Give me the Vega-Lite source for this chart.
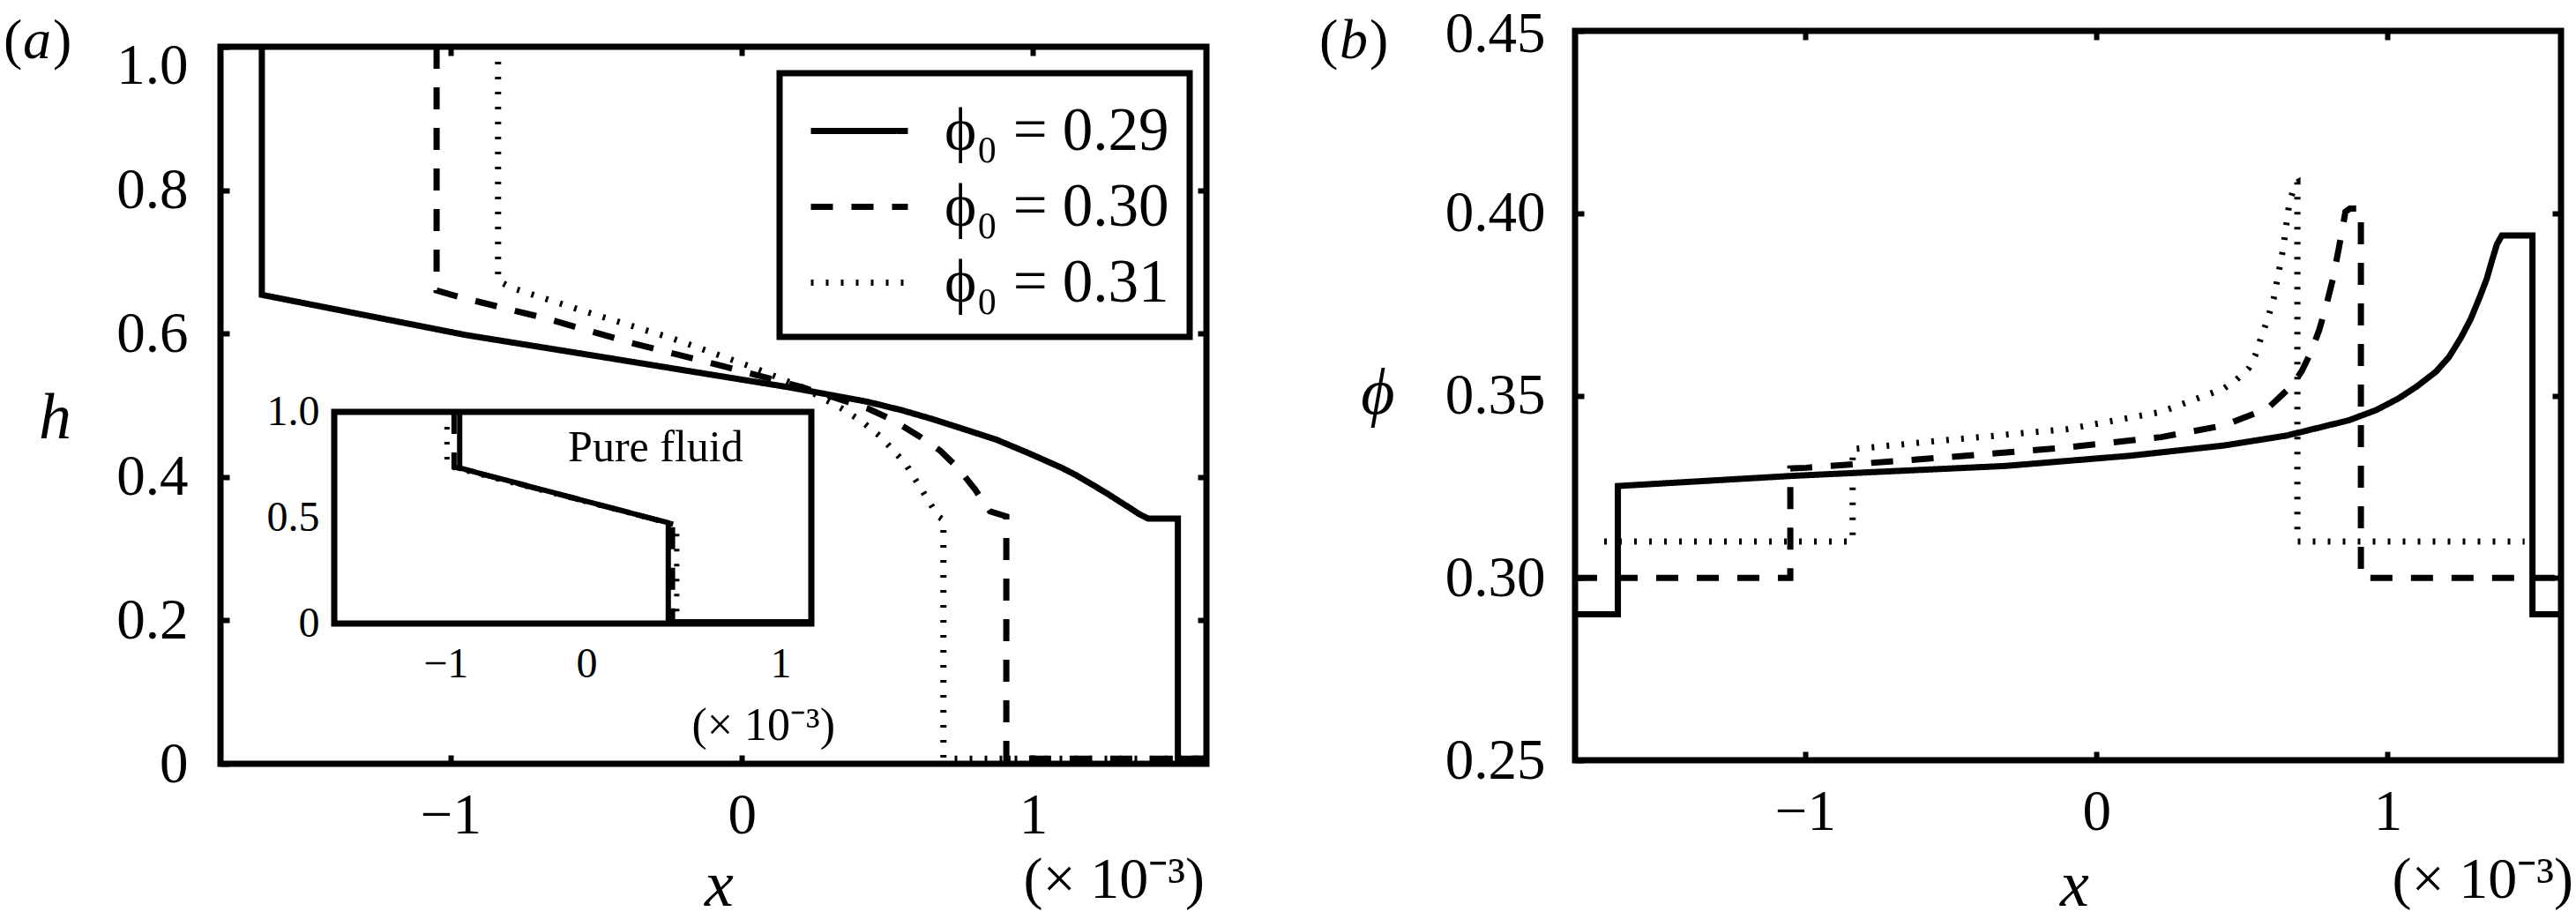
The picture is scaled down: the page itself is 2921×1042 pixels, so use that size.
{
  "$schema": "https://vega.github.io/schema/vega-lite/v6.json",
  "background": "white",
  "padding": {"left": 4, "top": 6, "right": 0, "bottom": 0},
  "spacing": 418,
  "bounds": "flush",
  "config": {
    "font": "Liberation Serif",
    "view": {"stroke": null},
    "axis": {
      "grid": false, "domain": false, "tickColor": "black", "tickWidth": 6, "tickSize": -10,
      "labelFont": "Liberation Serif", "labelFontSize": 65, "labelColor": "black", "labelPadding": 37,
      "labelFlush": false, "labelOverlap": false, "zindex": 1,
      "titleFont": "Liberation Serif", "titleFontStyle": "italic", "titleFontWeight": "normal", "titleFontSize": 74, "titleColor": "black"
    },
    "legend": {"zindex": 1}
  },
  "datasets": {
    "aMain": [
      {"s": "0.29", "i": 0, "x": -1.648, "h": 1.0},
      {"s": "0.29", "i": 1, "x": -1.648, "h": 0.654},
      {"s": "0.29", "i": 2, "x": -0.948, "h": 0.598},
      {"s": "0.29", "i": 3, "x": -0.459, "h": 0.566},
      {"s": "0.29", "i": 4, "x": 0.163, "h": 0.525},
      {"s": "0.29", "i": 5, "x": 0.43, "h": 0.505},
      {"s": "0.29", "i": 6, "x": 0.55, "h": 0.493},
      {"s": "0.29", "i": 7, "x": 0.652, "h": 0.481},
      {"s": "0.29", "i": 8, "x": 0.76, "h": 0.467},
      {"s": "0.29", "i": 9, "x": 0.874, "h": 0.452},
      {"s": "0.29", "i": 10, "x": 0.98, "h": 0.434},
      {"s": "0.29", "i": 11, "x": 1.097, "h": 0.413},
      {"s": "0.29", "i": 12, "x": 1.15, "h": 0.402},
      {"s": "0.29", "i": 13, "x": 1.2, "h": 0.39},
      {"s": "0.29", "i": 14, "x": 1.25, "h": 0.378},
      {"s": "0.29", "i": 15, "x": 1.3, "h": 0.365},
      {"s": "0.29", "i": 16, "x": 1.335, "h": 0.356},
      {"s": "0.29", "i": 17, "x": 1.365, "h": 0.348},
      {"s": "0.29", "i": 18, "x": 1.395, "h": 0.342},
      {"s": "0.29", "i": 19, "x": 1.497, "h": 0.342},
      {"s": "0.29", "i": 20, "x": 1.497, "h": 0.007},
      {"s": "0.29", "i": 21, "x": 1.595, "h": 0.007},
      {"s": "0.30", "i": 0, "x": -1.048, "h": 1.0},
      {"s": "0.30", "i": 1, "x": -1.048, "h": 0.66},
      {"s": "0.30", "i": 2, "x": -0.97, "h": 0.651},
      {"s": "0.30", "i": 3, "x": -0.681, "h": 0.622},
      {"s": "0.30", "i": 4, "x": -0.37, "h": 0.586},
      {"s": "0.30", "i": 5, "x": -0.059, "h": 0.554},
      {"s": "0.30", "i": 6, "x": 0.208, "h": 0.525},
      {"s": "0.30", "i": 7, "x": 0.43, "h": 0.496},
      {"s": "0.30", "i": 8, "x": 0.52, "h": 0.479},
      {"s": "0.30", "i": 9, "x": 0.608, "h": 0.457},
      {"s": "0.30", "i": 10, "x": 0.68, "h": 0.437},
      {"s": "0.30", "i": 11, "x": 0.741, "h": 0.413},
      {"s": "0.30", "i": 12, "x": 0.8, "h": 0.383},
      {"s": "0.30", "i": 13, "x": 0.852, "h": 0.352},
      {"s": "0.30", "i": 14, "x": 0.908, "h": 0.345},
      {"s": "0.30", "i": 15, "x": 0.908, "h": 0.007},
      {"s": "0.30", "i": 16, "x": 1.595, "h": 0.007},
      {"s": "0.31", "i": 0, "x": -0.837, "h": 1.0},
      {"s": "0.31", "i": 1, "x": -0.837, "h": 0.674},
      {"s": "0.31", "i": 2, "x": -0.792, "h": 0.664},
      {"s": "0.31", "i": 3, "x": -0.548, "h": 0.632},
      {"s": "0.31", "i": 4, "x": -0.237, "h": 0.593},
      {"s": "0.31", "i": 5, "x": 0.03, "h": 0.554},
      {"s": "0.31", "i": 6, "x": 0.208, "h": 0.525},
      {"s": "0.31", "i": 7, "x": 0.341, "h": 0.496},
      {"s": "0.31", "i": 8, "x": 0.41, "h": 0.478},
      {"s": "0.31", "i": 9, "x": 0.474, "h": 0.457},
      {"s": "0.31", "i": 10, "x": 0.563, "h": 0.418},
      {"s": "0.31", "i": 11, "x": 0.63, "h": 0.374},
      {"s": "0.31", "i": 12, "x": 0.674, "h": 0.345},
      {"s": "0.31", "i": 13, "x": 0.692, "h": 0.34},
      {"s": "0.31", "i": 14, "x": 0.692, "h": 0.007},
      {"s": "0.31", "i": 15, "x": 1.595, "h": 0.007}
    ],
    "aInset": [
      {"s": "0.29", "i": 0, "x": -0.9, "h": 1.0},
      {"s": "0.29", "i": 1, "x": -0.9, "h": 0.735},
      {"s": "0.29", "i": 2, "x": 0.58, "h": 0.476},
      {"s": "0.29", "i": 3, "x": 0.58, "h": 0.008},
      {"s": "0.29", "i": 4, "x": 1.595, "h": 0.008},
      {"s": "0.30", "i": 0, "x": -0.94, "h": 1.0},
      {"s": "0.30", "i": 1, "x": -0.94, "h": 0.74},
      {"s": "0.30", "i": 2, "x": 0.61, "h": 0.47},
      {"s": "0.30", "i": 3, "x": 0.61, "h": 0.008},
      {"s": "0.30", "i": 4, "x": 1.595, "h": 0.008},
      {"s": "0.31", "i": 0, "x": -0.99, "h": 1.0},
      {"s": "0.31", "i": 1, "x": -0.99, "h": 0.745},
      {"s": "0.31", "i": 2, "x": 0.64, "h": 0.465},
      {"s": "0.31", "i": 3, "x": 0.64, "h": 0.008},
      {"s": "0.31", "i": 4, "x": 1.595, "h": 0.008}
    ],
    "bMain": [
      {"s": "0.29", "i": 0, "x": -1.79, "p": 0.29},
      {"s": "0.29", "i": 1, "x": -1.643, "p": 0.29},
      {"s": "0.29", "i": 2, "x": -1.643, "p": 0.3252},
      {"s": "0.29", "i": 3, "x": -1.04, "p": 0.328},
      {"s": "0.29", "i": 4, "x": -0.312, "p": 0.3307},
      {"s": "0.29", "i": 5, "x": 0.116, "p": 0.3335},
      {"s": "0.29", "i": 6, "x": 0.437, "p": 0.3363},
      {"s": "0.29", "i": 7, "x": 0.651, "p": 0.339},
      {"s": "0.29", "i": 8, "x": 0.866, "p": 0.3432},
      {"s": "0.29", "i": 9, "x": 0.96, "p": 0.346},
      {"s": "0.29", "i": 10, "x": 1.037, "p": 0.3492},
      {"s": "0.29", "i": 11, "x": 1.1, "p": 0.3525},
      {"s": "0.29", "i": 12, "x": 1.165, "p": 0.3565},
      {"s": "0.29", "i": 13, "x": 1.21, "p": 0.3605},
      {"s": "0.29", "i": 14, "x": 1.251, "p": 0.3658},
      {"s": "0.29", "i": 15, "x": 1.285, "p": 0.371},
      {"s": "0.29", "i": 16, "x": 1.315, "p": 0.3768},
      {"s": "0.29", "i": 17, "x": 1.34, "p": 0.382},
      {"s": "0.29", "i": 18, "x": 1.358, "p": 0.387},
      {"s": "0.29", "i": 19, "x": 1.375, "p": 0.3915},
      {"s": "0.29", "i": 20, "x": 1.392, "p": 0.3939},
      {"s": "0.29", "i": 21, "x": 1.497, "p": 0.3939},
      {"s": "0.29", "i": 22, "x": 1.497, "p": 0.29},
      {"s": "0.29", "i": 23, "x": 1.595, "p": 0.29},
      {"s": "0.30", "i": 0, "x": -1.79, "p": 0.3},
      {"s": "0.30", "i": 1, "x": -1.051, "p": 0.3},
      {"s": "0.30", "i": 2, "x": -1.051, "p": 0.33},
      {"s": "0.30", "i": 3, "x": -0.997, "p": 0.3302},
      {"s": "0.30", "i": 4, "x": -0.527, "p": 0.333},
      {"s": "0.30", "i": 5, "x": -0.099, "p": 0.3358},
      {"s": "0.30", "i": 6, "x": 0.222, "p": 0.3386},
      {"s": "0.30", "i": 7, "x": 0.437, "p": 0.3418},
      {"s": "0.30", "i": 8, "x": 0.587, "p": 0.3464},
      {"s": "0.30", "i": 9, "x": 0.672, "p": 0.3528},
      {"s": "0.30", "i": 10, "x": 0.705, "p": 0.3567},
      {"s": "0.30", "i": 11, "x": 0.737, "p": 0.362},
      {"s": "0.30", "i": 12, "x": 0.765, "p": 0.368},
      {"s": "0.30", "i": 13, "x": 0.79, "p": 0.375},
      {"s": "0.30", "i": 14, "x": 0.812, "p": 0.382},
      {"s": "0.30", "i": 15, "x": 0.833, "p": 0.3907},
      {"s": "0.30", "i": 16, "x": 0.855, "p": 0.4004},
      {"s": "0.30", "i": 17, "x": 0.87, "p": 0.4013},
      {"s": "0.30", "i": 18, "x": 0.908, "p": 0.4013},
      {"s": "0.30", "i": 19, "x": 0.908, "p": 0.3},
      {"s": "0.30", "i": 20, "x": 1.595, "p": 0.3},
      {"s": "0.31", "i": 0, "x": -1.69, "p": 0.31},
      {"s": "0.31", "i": 1, "x": -0.837, "p": 0.31},
      {"s": "0.31", "i": 2, "x": -0.837, "p": 0.3353},
      {"s": "0.31", "i": 3, "x": -0.527, "p": 0.3377},
      {"s": "0.31", "i": 4, "x": -0.099, "p": 0.3408},
      {"s": "0.31", "i": 5, "x": 0.222, "p": 0.3455},
      {"s": "0.31", "i": 6, "x": 0.437, "p": 0.3519},
      {"s": "0.31", "i": 7, "x": 0.48, "p": 0.3543},
      {"s": "0.31", "i": 8, "x": 0.523, "p": 0.3575},
      {"s": "0.31", "i": 9, "x": 0.545, "p": 0.361},
      {"s": "0.31", "i": 10, "x": 0.565, "p": 0.3658},
      {"s": "0.31", "i": 11, "x": 0.588, "p": 0.371},
      {"s": "0.31", "i": 12, "x": 0.609, "p": 0.3768},
      {"s": "0.31", "i": 13, "x": 0.64, "p": 0.3898},
      {"s": "0.31", "i": 14, "x": 0.662, "p": 0.4027},
      {"s": "0.31", "i": 15, "x": 0.683, "p": 0.4082},
      {"s": "0.31", "i": 16, "x": 0.69, "p": 0.4085},
      {"s": "0.31", "i": 17, "x": 0.69, "p": 0.31},
      {"s": "0.31", "i": 18, "x": 1.47, "p": 0.31}
    ]
  },
  "resolve": {"scale": {"strokeDash": "independent"}, "legend": {"strokeDash": "independent"}},
  "hconcat": [
    {
      "width": 1118,
      "height": 831,
      "resolve": {"scale": {"x": "independent", "y": "independent"}, "axis": {"x": "independent", "y": "independent"}},
      "layer": [
        {
          "resolve": {"axis": {"x": "independent", "y": "independent"}},
          "layer": [
            {
              "data": {"values": [{}]},
              "mark": {"type": "rect", "fill": "white", "stroke": "black", "strokeWidth": 7},
              "encoding": {
                "x": {"datum": 0.1296, "type": "quantitative", "axis": null},
                "x2": {"datum": 1.5375},
                "y": {"datum": 0.5953, "type": "quantitative", "axis": null},
                "y2": {"datum": 0.9631}
              }
            },
            {
              "data": {"name": "aMain"},
              "mark": {"type": "line", "strokeWidth": 7, "color": "black", "strokeCap": "butt"},
              "encoding": {
                "x": {"field": "x", "type": "quantitative",
                  "scale": {"domain": [-1.79, 1.595], "nice": false, "zero": false},
                  "axis": {"orient": "bottom", "values": [-1, 0, 1], "format": "d", "title": "x",
                    "titleX": 565, "titleY": 160, "titleAlign": "center", "titleBaseline": "alphabetic"}},
                "y": {"field": "h", "type": "quantitative",
                  "scale": {"domain": [0, 1.02214], "nice": false, "zero": false},
                  "axis": {"orient": "left", "values": [0, 0.2, 0.4, 0.6, 0.8, 1],
                    "labelExpr": "datum.value == 0 ? '0' : format(datum.value, '.1f')", "labelPadding": 47,
                    "labelOffset": {"condition": {"test": "datum.value > 0.95", "value": 22}, "value": 0},
                    "title": "h", "titleAngle": 0, "titleX": -188, "titleY": 461, "titleAlign": "center", "titleBaseline": "alphabetic"}},
                "strokeDash": {"field": "s", "type": "nominal",
                  "scale": {"domain": ["0.29", "0.30", "0.31"], "range": [[1, 0], [25, 21], [3, 14]]},
                  "legend": {"orient": "none", "legendX": 690, "legendY": 79, "title": null,
                    "symbolType": "M-2.5,0H2.5", "symbolSize": 1936, "symbolStrokeWidth": 7, "symbolStrokeColor": "black",
                    "labelFont": "Liberation Serif", "labelFontSize": 69, "labelColor": "black", "labelOffset": 62,
                    "labelLimit": 600, "padding": 0, "rowPadding": 16,
                    "labelExpr": "'ϕ₀ = ' + datum.label"}},
                "order": {"field": "i", "type": "quantitative"}
              }
            },
            {
              "data": {"values": [{}]},
              "mark": {"type": "rect", "fillOpacity": 0, "stroke": "black", "strokeWidth": 7},
              "encoding": {
                "x": {"datum": -1.79, "type": "quantitative",
                  "axis": {"orient": "top", "labels": false, "title": null, "values": [-1, 0, 1], "offset": -18}},
                "x2": {"datum": 1.595},
                "y": {"datum": 0, "type": "quantitative",
                  "axis": {"orient": "right", "labels": false, "title": null, "values": [0.2, 0.4, 0.6, 0.8]}},
                "y2": {"datum": 1}
              }
            },
            {
              "data": {"values": [{}]},
              "mark": {"type": "text", "text": "(", "align": "left", "baseline": "alphabetic", "dx": -246, "dy": 13, "fontSize": 64, "font": "Liberation Serif", "color": "black"},
              "encoding": {"x": {"datum": -1.79, "type": "quantitative", "axis": null}, "y": {"datum": 1, "type": "quantitative", "axis": null}}
            },
            {
              "data": {"values": [{}]},
              "mark": {"type": "text", "text": "a", "align": "left", "baseline": "alphabetic", "dx": -224, "dy": 13, "fontSize": 64, "fontStyle": "italic", "font": "Liberation Serif", "color": "black"},
              "encoding": {"x": {"datum": -1.79, "type": "quantitative", "axis": null}, "y": {"datum": 1, "type": "quantitative", "axis": null}}
            },
            {
              "data": {"values": [{}]},
              "mark": {"type": "text", "text": ")", "align": "left", "baseline": "alphabetic", "dx": -190, "dy": 13, "fontSize": 64, "font": "Liberation Serif", "color": "black"},
              "encoding": {"x": {"datum": -1.79, "type": "quantitative", "axis": null}, "y": {"datum": 1, "type": "quantitative", "axis": null}}
            },
            {
              "data": {"values": [{}]},
              "mark": {"type": "text", "text": "(× 10⁻³)", "align": "right", "baseline": "alphabetic", "dx": -2, "fontSize": 66, "font": "Liberation Serif", "color": "black"},
              "encoding": {"x": {"datum": 1.595, "type": "quantitative", "axis": null}, "y": {"datum": -0.187, "type": "quantitative", "axis": null}}
            }
          ]
        },
        {
          "resolve": {"axis": {"x": "independent", "y": "independent"}},
          "layer": [
            {
              "data": {"values": [{}]},
              "mark": {"type": "rect", "fill": "white", "stroke": "black", "strokeWidth": 7},
              "encoding": {
                "x": {"datum": -1.79, "type": "quantitative",
                  "scale": {"domain": [-1.79, 1.595], "range": [129, 670], "nice": false, "zero": false},
                  "axis": {"orient": "top", "labels": false, "title": null, "values": [-1, 0, 1], "offset": -432, "tickSize": -8, "tickWidth": 5}},
                "x2": {"datum": 1.595},
                "y": {"datum": 0, "type": "quantitative",
                  "scale": {"domain": [0, 1], "range": [672, 432], "nice": false, "zero": false},
                  "axis": {"orient": "right", "labels": false, "title": null, "values": [0.5], "offset": -448, "tickSize": -8, "tickWidth": 5}},
                "y2": {"datum": 1}
              }
            },
            {
              "data": {"name": "aInset"},
              "mark": {"type": "line", "strokeWidth": 6, "color": "black", "strokeCap": "butt"},
              "encoding": {
                "x": {"field": "x", "type": "quantitative",
                  "axis": {"orient": "bottom", "values": [-1, 0, 1], "format": "d", "title": null, "offset": -159,
                    "labelFontSize": 48, "labelPadding": 30, "tickSize": -8, "tickWidth": 5,
                    "labelOffset": {"condition": {"test": "datum.value > 0.5", "value": 60}, "value": 0}}},
                "y": {"field": "h", "type": "quantitative",
                  "axis": {"orient": "left", "values": [0, 0.5, 1], "labelExpr": "datum.value == 0 ? '0' : format(datum.value, '.1f')",
                    "title": null, "offset": -129, "labelFontSize": 48, "labelPadding": 25, "tickSize": -8, "tickWidth": 5}},
                "strokeDash": {"field": "s", "type": "nominal", "legend": null},
                "order": {"field": "i", "type": "quantitative"}
              }
            },
            {
              "data": {"values": [{}]},
              "mark": {"type": "text", "text": "Pure fluid", "align": "center", "baseline": "alphabetic", "fontSize": 50, "font": "Liberation Serif", "color": "black"},
              "encoding": {"x": {"datum": 0.49, "type": "quantitative", "axis": null}, "y": {"datum": 0.767, "type": "quantitative", "axis": null}}
            },
            {
              "data": {"values": [{}]},
              "mark": {"type": "text", "text": "(× 10⁻³)", "align": "right", "baseline": "alphabetic", "dx": 27, "fontSize": 52, "font": "Liberation Serif", "color": "black"},
              "encoding": {"x": {"datum": 1.595, "type": "quantitative", "axis": null}, "y": {"datum": -0.55, "type": "quantitative", "axis": null}}
            }
          ]
        }
      ]
    },
    {
      "width": 1118,
      "height": 827,
      "resolve": {"axis": {"x": "independent", "y": "independent"}},
      "layer": [
        {
          "data": {"name": "bMain"},
          "mark": {"type": "line", "strokeWidth": 7, "color": "black", "strokeCap": "butt"},
          "encoding": {
            "x": {"field": "x", "type": "quantitative",
              "scale": {"domain": [-1.79, 1.595], "nice": false, "zero": false},
              "axis": {"orient": "bottom", "values": [-1, 0, 1], "format": "d", "title": "x",
                "titleX": 566, "titleY": 164, "titleAlign": "center", "titleBaseline": "alphabetic"}},
            "y": {"field": "p", "type": "quantitative",
              "scale": {"domain": [0.25, 0.45], "nice": false, "zero": false},
              "axis": {"orient": "left", "values": [0.25, 0.3, 0.35, 0.4, 0.45], "format": ".2f", "labelPadding": 44,
                "labelOffset": {"condition": {"test": "datum.value > 0.44", "value": 3}, "value": 0},
                "title": "ϕ", "titleAngle": 0, "titleX": -224, "titleY": 433, "titleAlign": "center", "titleBaseline": "alphabetic"}},
            "strokeDash": {"field": "s", "type": "nominal",
              "scale": {"domain": ["0.29", "0.30", "0.31"], "range": [[1, 0], [25, 21], [3, 14]]},
              "legend": null},
            "order": {"field": "i", "type": "quantitative"}
          }
        },
        {
          "data": {"values": [{}]},
          "mark": {"type": "rect", "fillOpacity": 0, "stroke": "black", "strokeWidth": 7},
          "encoding": {
            "x": {"datum": -1.79, "type": "quantitative",
              "axis": {"orient": "top", "labels": false, "title": null, "values": [-1, 0, 1]}},
            "x2": {"datum": 1.595},
            "y": {"datum": 0.25, "type": "quantitative",
              "axis": {"orient": "right", "labels": false, "title": null, "values": [0.3, 0.35, 0.4]}},
            "y2": {"datum": 0.45}
          }
        },
        {
          "data": {"values": [{}]},
          "mark": {"type": "text", "text": "(", "align": "left", "baseline": "alphabetic", "dx": -290, "dy": 31, "fontSize": 64, "font": "Liberation Serif", "color": "black"},
          "encoding": {"x": {"datum": -1.79, "type": "quantitative", "axis": null}, "y": {"datum": 0.45, "type": "quantitative", "axis": null}}
        },
        {
          "data": {"values": [{}]},
          "mark": {"type": "text", "text": "b", "align": "left", "baseline": "alphabetic", "dx": -267, "dy": 31, "fontSize": 64, "fontStyle": "italic", "font": "Liberation Serif", "color": "black"},
          "encoding": {"x": {"datum": -1.79, "type": "quantitative", "axis": null}, "y": {"datum": 0.45, "type": "quantitative", "axis": null}}
        },
        {
          "data": {"values": [{}]},
          "mark": {"type": "text", "text": ")", "align": "left", "baseline": "alphabetic", "dx": -233, "dy": 31, "fontSize": 64, "font": "Liberation Serif", "color": "black"},
          "encoding": {"x": {"datum": -1.79, "type": "quantitative", "axis": null}, "y": {"datum": 0.45, "type": "quantitative", "axis": null}}
        },
        {
          "data": {"values": [{}]},
          "mark": {"type": "text", "text": "(× 10⁻³)", "align": "right", "baseline": "alphabetic", "dx": 14, "fontSize": 66, "font": "Liberation Serif", "color": "black"},
          "encoding": {"x": {"datum": 1.595, "type": "quantitative", "axis": null}, "y": {"datum": 0.2123, "type": "quantitative", "axis": null}}
        }
      ]
    }
  ]
}
